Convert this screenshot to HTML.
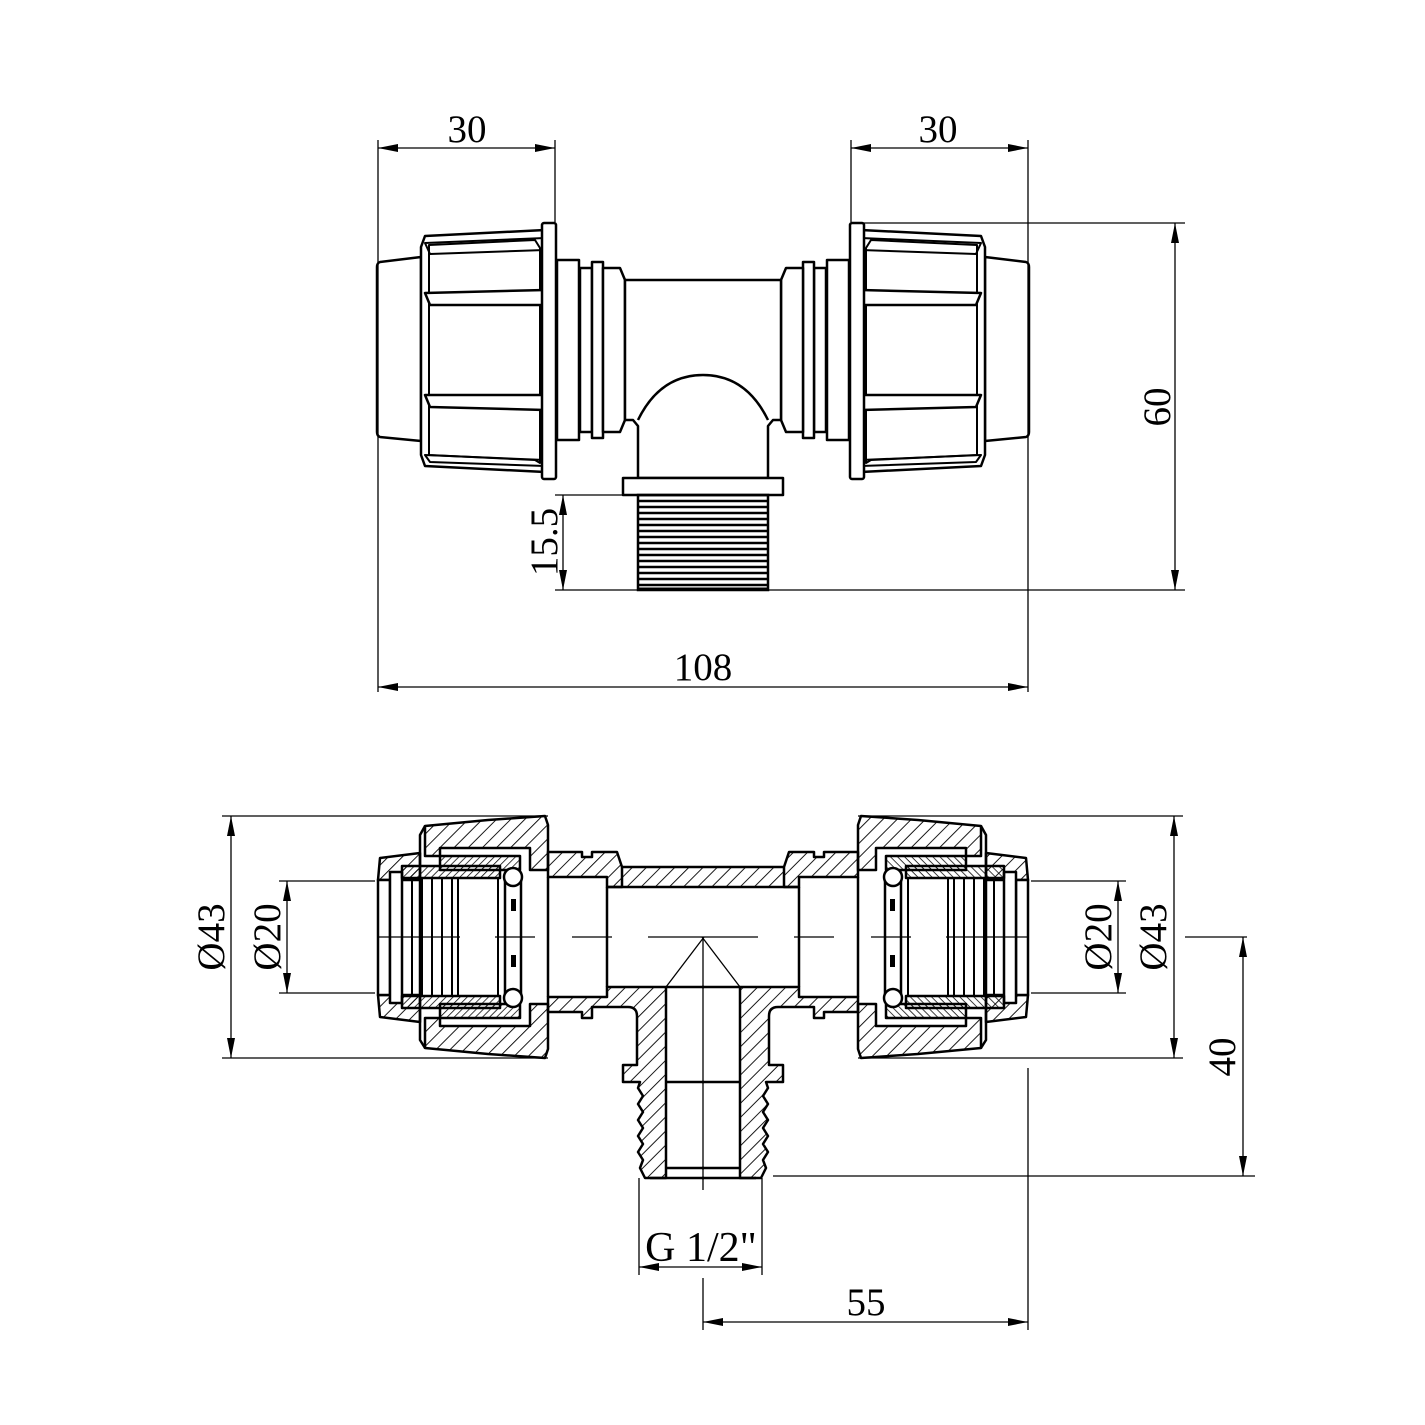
<!DOCTYPE html>
<html><head><meta charset="utf-8"><style>
html,body{margin:0;padding:0;background:#fff}
svg{display:block}
text{font-family:"Liberation Serif",serif;font-size:39px;fill:#000}
</style></head><body>
<svg width="1425" height="1425" viewBox="0 0 1425 1425" xmlns="http://www.w3.org/2000/svg">
<defs>
<pattern id="hA" patternUnits="userSpaceOnUse" width="10" height="10" patternTransform="rotate(45)"><line x1="0" y1="0" x2="0" y2="10" stroke="#000" stroke-width="1.8"/></pattern>
<pattern id="hB" patternUnits="userSpaceOnUse" width="10" height="10" patternTransform="rotate(-45)"><line x1="0" y1="0" x2="0" y2="10" stroke="#000" stroke-width="1.8"/></pattern>
<pattern id="hS" patternUnits="userSpaceOnUse" width="5" height="5" patternTransform="rotate(45)"><line x1="0" y1="0" x2="0" y2="5" stroke="#000" stroke-width="1.5"/></pattern>
<pattern id="thr" patternUnits="userSpaceOnUse" width="10" height="6"><line x1="0" y1="3" x2="10" y2="3" stroke="#000" stroke-width="2.5"/></pattern>
<marker id="ar" viewBox="0 0 20 8" refX="20" refY="4" markerWidth="20" markerHeight="8" markerUnits="userSpaceOnUse" orient="auto-start-reverse"><path d="M0,0 L20,4 L0,8 Z" fill="#000"/></marker>
<g id="topHalf" fill="#fff" stroke="#000" stroke-width="2.5" stroke-linejoin="round">
  <path d="M380,262 L421,257 L421,441 L380,437 Q377,436 377,432 L377,267 Q377,263 380,262 Z"/>
  <path d="M425,236 L545,230 L545,472 L425,466 L421,455 L421,247 Z"/>
  <path d="M429,245 L535,240 L540,248 L540,463 L535,460 L429,455 Z" fill="none" stroke-width="2"/>
  <path d="M425,293 L545,290 L545,305 L430,305 Z"/>
  <path d="M425,395 L545,395 L545,410 L430,407 Z"/>
  <path d="M425,243 L545,238 L545,250 L430,254 Z" fill="none" stroke-width="2"/>
  <path d="M425,455 L545,460 L545,466 L430,462 Z" fill="none" stroke-width="2"/>
  <rect x="542" y="223" width="14" height="256" rx="2"/>
  <rect x="557" y="260" width="22" height="180"/>
  <rect x="580" y="268" width="12" height="164"/>
  <rect x="592" y="262" width="11" height="176"/>
  <path d="M603,268 L620,268 L625,280 L625,420 L620,432 L603,432 Z"/>
</g>
<g id="botHalf" stroke="#000" stroke-width="2.5" stroke-linejoin="round">
  <path d="M380,858 L420,853 L420,880 L378,880 Z"/>
  <path d="M378,995 L420,995 L420,1022 L380,1017 Z"/>
  <rect x="378" y="880" width="12" height="115" fill="#fff"/>
  <rect x="390" y="872" width="12" height="131" fill="#fff"/>
  <path d="M425,826 L488,820 L545,816 L548,825 L548,870 L530,870 L530,848 L440,848 L440,856 L425,856 Z"/>
  <path d="M425,1048 L488,1054 L545,1058 L548,1049 L548,1004 L530,1004 L530,1026 L440,1026 L440,1018 L425,1018 Z"/>
  <path d="M425,826 L420,835 L420,1040 L425,1048" fill="none"/>
  <path d="M440,856 L520,856 L520,870 L440,870 Z" fill="url(#hS)"/>
  <path d="M440,1018 L520,1018 L520,1004 L440,1004 Z" fill="url(#hS)"/>
  <path d="M402,866 L500,866 L500,878 L402,878 Z" fill="url(#hS)"/>
  <path d="M402,1008 L500,1008 L500,996 L402,996 Z" fill="url(#hS)"/>
  <g stroke-width="2" fill="none">
    <line x1="412" y1="878" x2="412" y2="996"/><line x1="422" y1="878" x2="422" y2="996"/>
    <line x1="432" y1="878" x2="432" y2="996"/><line x1="442" y1="878" x2="442" y2="996"/>
    <line x1="452" y1="878" x2="452" y2="996"/><line x1="458" y1="878" x2="458" y2="996"/>
    <line x1="498" y1="878" x2="498" y2="996"/>
  </g>
  <rect x="505" y="877" width="16" height="121" fill="#fff"/>
  <circle cx="513" cy="877" r="9" fill="#fff"/>
  <circle cx="513" cy="998" r="9" fill="#fff"/>
  <rect x="511" y="899" width="5" height="12" fill="#000" stroke="none"/>
  <rect x="511" y="955" width="5" height="12" fill="#000" stroke="none"/>
  <path d="M548,852 L582,852 L582,857 L592,857 L592,852 L617,852 L622,867 L622,887 L607,887 L607,877 L548,877 Z"/>
  <path d="M548,997 L607,997 L607,987 L666,987 L666,1178 L645,1178 L640,1168 L643,1160 L638,1152 L643,1144 L638,1136 L643,1128 L638,1120 L643,1112 L638,1104 L643,1096 L638,1088 L640,1082 L623,1082 L623,1065 L637,1065 L637,1016 Q637,1007 628,1007 L592,1007 L592,1018 L582,1018 L582,1012 L548,1012 Z"/>
  <line x1="548" y1="877" x2="548" y2="997" fill="none"/>
  <line x1="607" y1="887" x2="607" y2="987" fill="none"/>
  <line x1="666" y1="987" x2="704" y2="987"/>
  <line x1="666" y1="1082" x2="704" y2="1082"/>
  <line x1="666" y1="1168" x2="704" y2="1168"/>
  <line x1="650" y1="1178" x2="704" y2="1178"/>
  <line x1="666" y1="987" x2="704" y2="937" stroke-width="1.3"/>
</g>
</defs>

<!-- TOP VIEW -->
<use href="#topHalf"/>
<use href="#topHalf" transform="translate(1406,0) scale(-1,1)"/>
<g fill="#fff" stroke="#000" stroke-width="2.5" stroke-linejoin="round">
  <path d="M625,280 L781,280 L781,420 L773,420 L768,426 L768,478 L638,478 L638,426 L633,420 L625,420 Z"/>
  <path d="M638,420 Q660,375 703,375 Q746,375 768,420" fill="none"/>
  <rect x="623" y="478" width="160" height="17"/>
</g>
<rect x="638" y="495" width="130" height="95" fill="url(#thr)" stroke="#000" stroke-width="2.5"/>
<line x1="638" y1="589" x2="768" y2="589" stroke="#000" stroke-width="3"/>

<!-- BOTTOM VIEW -->
<use href="#botHalf" fill="url(#hA)"/>
<use href="#botHalf" fill="url(#hB)" transform="translate(1406,0) scale(-1,1)"/>
<rect x="622" y="867" width="162" height="20" fill="url(#hA)"/>
<g stroke="#000" stroke-width="2.5">
  <line x1="621" y1="867" x2="785" y2="867"/>
  <line x1="606" y1="887" x2="800" y2="887"/>
</g>
<line x1="703" y1="937" x2="703" y2="1190" stroke="#000" stroke-width="1.3"/>
<g stroke="#000" stroke-width="1.3">
  <line x1="378" y1="937" x2="460" y2="937"/><line x1="495" y1="937" x2="535" y2="937"/>
  <line x1="572" y1="937" x2="612" y2="937"/><line x1="648" y1="937" x2="758" y2="937"/>
  <line x1="794" y1="937" x2="834" y2="937"/><line x1="871" y1="937" x2="911" y2="937"/>
  <line x1="946" y1="937" x2="1028" y2="937"/>
</g>

<!-- DIMENSIONS -->
<g stroke="#000" stroke-width="1.3" fill="none">
  <line x1="378" y1="140" x2="378" y2="692"/>
  <line x1="555" y1="140" x2="555" y2="222"/>
  <line x1="851" y1="140" x2="851" y2="222"/>
  <line x1="1028" y1="140" x2="1028" y2="692"/>
  <line x1="378" y1="148" x2="555" y2="148" marker-start="url(#ar)" marker-end="url(#ar)"/>
  <line x1="851" y1="148" x2="1028" y2="148" marker-start="url(#ar)" marker-end="url(#ar)"/>
  <line x1="858" y1="223" x2="1185" y2="223"/>
  <line x1="555" y1="590" x2="1185" y2="590"/>
  <line x1="1175" y1="223" x2="1175" y2="590" marker-start="url(#ar)" marker-end="url(#ar)"/>
  <line x1="555" y1="495" x2="623" y2="495"/>
  <line x1="563" y1="495" x2="563" y2="590" marker-start="url(#ar)" marker-end="url(#ar)"/>
  <line x1="378" y1="687" x2="1028" y2="687" marker-start="url(#ar)" marker-end="url(#ar)"/>
  <line x1="222" y1="816" x2="548" y2="816"/>
  <line x1="222" y1="1058" x2="548" y2="1058"/>
  <line x1="231" y1="816" x2="231" y2="1058" marker-start="url(#ar)" marker-end="url(#ar)"/>
  <line x1="279" y1="881" x2="375" y2="881"/>
  <line x1="279" y1="993" x2="375" y2="993"/>
  <line x1="287" y1="881" x2="287" y2="993" marker-start="url(#ar)" marker-end="url(#ar)"/>
  <line x1="858" y1="816" x2="1183" y2="816"/>
  <line x1="858" y1="1058" x2="1183" y2="1058"/>
  <line x1="1174" y1="816" x2="1174" y2="1058" marker-start="url(#ar)" marker-end="url(#ar)"/>
  <line x1="1031" y1="881" x2="1126" y2="881"/>
  <line x1="1031" y1="993" x2="1126" y2="993"/>
  <line x1="1118" y1="881" x2="1118" y2="993" marker-start="url(#ar)" marker-end="url(#ar)"/>
  <line x1="1185" y1="937" x2="1247" y2="937"/>
  <line x1="773" y1="1176" x2="1255" y2="1176"/>
  <line x1="1243" y1="937" x2="1243" y2="1176" marker-start="url(#ar)" marker-end="url(#ar)"/>
  <line x1="639" y1="1178" x2="639" y2="1275"/>
  <line x1="762" y1="1178" x2="762" y2="1275"/>
  <line x1="639" y1="1267" x2="762" y2="1267" marker-start="url(#ar)" marker-end="url(#ar)"/>
  <line x1="703" y1="1278" x2="703" y2="1330"/>
  <line x1="1028" y1="1068" x2="1028" y2="1330"/>
  <line x1="703" y1="1322" x2="1028" y2="1322" marker-start="url(#ar)" marker-end="url(#ar)"/>
</g>

<text x="467" y="142" text-anchor="middle">30</text>
<text x="938" y="142" text-anchor="middle">30</text>
<text x="703" y="680" text-anchor="middle">108</text>
<text transform="translate(1170,407) rotate(-90)" text-anchor="middle">60</text>
<text transform="translate(557,542) rotate(-90)" text-anchor="middle">15.5</text>
<text transform="translate(224,937) rotate(-90)" text-anchor="middle">Ø43</text>
<text transform="translate(280,937) rotate(-90)" text-anchor="middle">Ø20</text>
<text transform="translate(1111,937) rotate(-90)" text-anchor="middle">Ø20</text>
<text transform="translate(1166,937) rotate(-90)" text-anchor="middle">Ø43</text>
<text transform="translate(1235,1057) rotate(-90)" text-anchor="middle">40</text>
<text x="701" y="1261" text-anchor="middle" style="font-size:42px">G 1/2"</text>
<text x="866" y="1315" text-anchor="middle">55</text>
</svg>
</body></html>
